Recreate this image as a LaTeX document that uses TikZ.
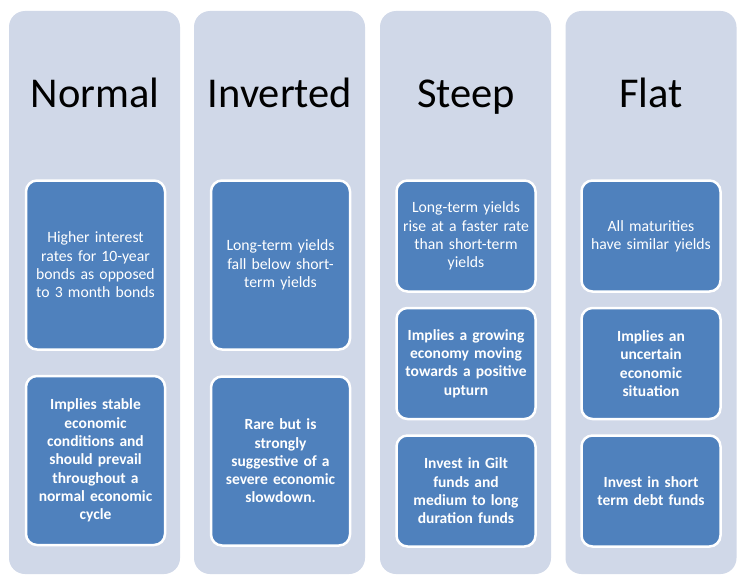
\documentclass[tikz,border=0pt]{standalone}
\usepackage{fontspec}
\setmainfont{Carlito}
\definecolor{colbg}{HTML}{D0D8E8}
\definecolor{boxbg}{HTML}{4F81BD}
\begin{document}
\begin{tikzpicture}[x=1pt,y=-1pt,
  colbox/.style={draw=none,fill=colbg,rounded corners=16pt,minimum width=171pt,minimum height=563pt,inner sep=0pt},
  title/.style={font=\fontsize{42.5}{48}\selectfont,text=black,inner sep=0pt,anchor=base},
  tallbox/.style={draw=white,line width=2.5pt,fill=boxbg,rounded corners=11pt,minimum width=139pt,minimum height=169pt,text width=128pt,align=center,text=white,inner sep=0pt,font=\fontsize{15.7}{18.3}\selectfont},
  shortbox/.style={tallbox,minimum height=111pt},
  boldtxt/.style={font=\fontsize{15.5}{18.3}\selectfont\bfseries}
]
\useasboundingbox (0,0) rectangle (746,583);
\fill[white] (0,0) rectangle (746,583);
% columns
\node[colbox] (c1) at (94.5,292.5) {};
\node[colbox] (c2) at (279.5,292.5) {};
\node[colbox] (c3) at (465.5,292.5) {};
\node[colbox] (c4) at (651,292.5) {};
% titles
\node[title] (t1) at (95,108) {Normal};
\node[title] (t2) at (280,108) {Inverted};
\node[title] (t3) at (466,108) {Steep};
\node[title] (t4) at (651,108) {Flat};
% column 1
\node[tallbox] (a1) at (95.5,265) {Higher interest\\rates for 10-year\\bonds as opposed\\to 3 month bonds};
\node[tallbox,boldtxt] (a2) at (95.5,460.5) {Implies stable\\economic\\conditions and\\should prevail\\throughout a\\normal economic\\cycle};
% column 2
\node[tallbox] (b1) at (280.5,265) {Long-term yields\\fall below short-\\term yields};
\node[tallbox,boldtxt] (b2) at (280.5,461) {Rare but is\\strongly\\suggestive of a\\severe economic\\slowdown.};
% column 3
\node[shortbox] (s1) at (466,236) {Long-term yields\\rise at a faster rate\\than short-term\\yields};
\node[shortbox,boldtxt] (s2) at (466,363.5) {Implies a growing\\economy moving\\towards a positive\\upturn};
\node[shortbox,boldtxt] (s3) at (466,491) {Invest in Gilt\\funds and\\medium to long\\duration funds};
% column 4
\node[shortbox] (f1) at (651,236) {All maturities\\have similar yields};
\node[shortbox,boldtxt] (f2) at (651,363.5) {Implies an\\uncertain\\economic\\situation};
\node[shortbox,boldtxt] (f3) at (651,491) {Invest in short\\term debt funds};
\end{tikzpicture}
\end{document}
